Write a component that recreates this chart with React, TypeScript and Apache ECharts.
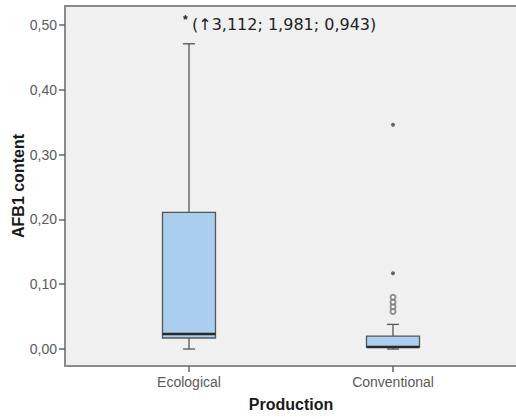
import React, { useEffect, useRef } from "react";
import * as echarts from "echarts";

const categories = ["Ecological", "Conventional"];
// [min whisker, Q1, median, Q3, max whisker]
const boxValues = [
  [0.0, 0.017, 0.023, 0.211, 0.471],
  [0.0, 0.003, 0.003, 0.02, 0.038],
];
const outliers = [
  [1, 0.08],
  [1, 0.072],
  [1, 0.065],
  [1, 0.058],
];
const extremes = [
  [1, 0.346],
  [1, 0.117],
];
const yTicks = [0, 0.1, 0.2, 0.3, 0.4, 0.5];
const noteText = "(\u21913,112; 1,981; 0,943)";

export default function App() {
  const ref = useRef<HTMLDivElement>(null);
  useEffect(() => {
    if (!ref.current) return;
    const chart = echarts.init(ref.current, null, { renderer: "svg" });
    const boxData = boxValues.map((v, i) => [i, ...v]);
    chart.setOption({
      animation: false,
      backgroundColor: "#ffffff",
      textStyle: { fontFamily: "Arial, 'Liberation Sans', sans-serif" },
      graphic: [
        {
          type: "rect",
          z: -10,
          shape: { x: 65, y: 6, width: 470, height: 360 },
          style: { fill: "#f0f0f0", stroke: "#8a8a8a", lineWidth: 2 },
        },
        {
          type: "text",
          x: 183,
          y: 14,
          style: { text: "*", fill: "#222", font: "bold 12px Arial, 'Liberation Sans'" },
        },
        {
          type: "text",
          x: 192,
          y: 16,
          style: { text: noteText, fill: "#222", font: "16px 'DejaVu Sans', Arial" },
        },
      ],
      grid: { left: 87, right: 21, top: 6, bottom: 53, outerBoundsMode: "none", containLabel: false },
      xAxis: {
        type: "category",
        data: categories,
        axisLine: { show: false, onZero: false },
        axisTick: { show: true, alignWithLabel: true, length: 6, lineStyle: { color: "#666", width: 1.5 } },
        axisLabel: { color: "#5a5a5a", fontSize: 14, margin: 9 },
        name: "Production",
        nameLocation: "middle",
        nameGap: 30,
        nameTextStyle: { color: "#1a1a1a", fontSize: 16, fontWeight: "bold" },
        splitLine: { show: false },
      },
      yAxis: {
        type: "value",
        min: -0.0262,
        max: 0.5293,
        offset: 22,
        axisLine: { show: false },
        axisTick: { show: true, length: 6, customValues: yTicks, lineStyle: { color: "#666", width: 1.5 } },
        axisLabel: {
          customValues: yTicks,
          color: "#5a5a5a",
          fontSize: 14,
          margin: 8,
          formatter: (v: number) => v.toFixed(2).replace(".", ","),
        },
        splitLine: { show: false },
        name: "AFB1 content",
        nameLocation: "middle",
        nameGap: 39,
        nameMoveOverlap: false,
        nameTextStyle: { color: "#1a1a1a", fontSize: 16, fontWeight: "bold" },
      },
      series: [
        {
          type: "custom",
          data: boxData,
          encode: { x: 0, y: [1, 2, 3, 4, 5] },
          renderItem: (params: any, api: any) => {
            const cat = api.value(0);
            const p = (v: number) => api.coord([cat, v]);
            const x = p(api.value(1))[0];
            const yMin = p(api.value(1))[1];
            const yQ1 = p(api.value(2))[1];
            const yMed = p(api.value(3))[1];
            const yQ3 = p(api.value(4))[1];
            const yMax = p(api.value(5))[1];
            const hw = 26.5;
            const cw = 6;
            const line = "#555";
            return {
              type: "group",
              children: [
                { type: "line", shape: { x1: x, y1: yMax, x2: x, y2: yQ3 }, style: { stroke: line, lineWidth: 1.3 } },
                { type: "line", shape: { x1: x, y1: yQ1, x2: x, y2: yMin }, style: { stroke: line, lineWidth: 1.3 } },
                { type: "line", shape: { x1: x - cw, y1: yMax, x2: x + cw, y2: yMax }, style: { stroke: line, lineWidth: 1.3 } },
                { type: "line", shape: { x1: x - cw, y1: yMin, x2: x + cw, y2: yMin }, style: { stroke: line, lineWidth: 1.3 } },
                {
                  type: "rect",
                  shape: { x: x - hw, y: yQ3, width: hw * 2, height: Math.max(yQ1 - yQ3, 1) },
                  style: { fill: "#aacfee", stroke: "#555", lineWidth: 1.3 },
                },
                {
                  type: "line",
                  shape: { x1: x - hw, y1: yMed, x2: x + hw, y2: yMed },
                  style: { stroke: "#2a2a2a", lineWidth: 2.5 },
                },
              ],
            };
          },
        },
        {
          type: "scatter",
          data: outliers,
          symbol: "emptyCircle",
          symbolSize: 5,
          itemStyle: { color: "#777", borderColor: "#666", borderWidth: 1.2 },
        },
        {
          type: "scatter",
          data: extremes,
          symbol: "circle",
          symbolSize: 4,
          itemStyle: { color: "#444" },
        },
      ],
    });
    return () => chart.dispose();
  }, []);
  return (
    <div
      ref={ref}
      style={{ position: "fixed", left: 0, top: 0, width: 516, height: 419 }}
    />
  );
}
